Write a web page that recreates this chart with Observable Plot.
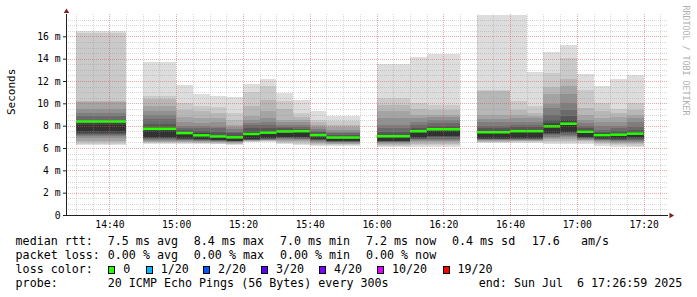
<!DOCTYPE html>
<html><head><meta charset="utf-8">
<script src="https://cdn.jsdelivr.net/npm/d3@7"></script>
<script src="https://cdn.jsdelivr.net/npm/@observablehq/plot@0.6"></script>
<style>
html,body{margin:0;padding:0;background:#fff;}
#wrap{position:relative;width:697px;height:297px;overflow:hidden;background:#fff;}
#chart svg{display:block;}
.lg{position:absolute;white-space:pre;font-family:"DejaVu Sans Mono",monospace;font-size:11.66px;line-height:14px;color:#000;}
.box{position:absolute;width:5px;height:6px;border:1px solid #000;}
</style></head><body><div id="wrap"><div id="chart"></div><div id="legend"></div></div>
<script>
// ---- data (ms) ----
const starts = ["14:30","14:50","15:00","15:05","15:10","15:15","15:20","15:25","15:30","15:35","15:40","15:45","16:00","16:10","16:15","16:30","16:40","16:45","16:50","16:55","17:00","17:05","17:10","17:15"];
const ends   = ["14:45","15:00","15:05","15:10","15:15","15:20","15:25","15:30","15:35","15:40","15:45","15:55","16:10","16:15","16:25","16:40","16:45","16:50","16:55","17:00","17:05","17:10","17:15","17:20"];
const medians = [8.42,7.77,7.38,7.18,7.08,7.0,7.3,7.42,7.53,7.55,7.2,6.98,7.1,7.55,7.73,7.45,7.55,7.55,7.98,8.22,7.5,7.2,7.24,7.33];
// 20 sorted ping times per interval
const pings = [
  [6.25,6.35,6.5,6.64,6.9,7.05,7.15,7.25,7.33,7.5, 8.1,8.3,8.5,8.85,9.17,9.53,10.15,10.2,16.27,16.47],
  [6.4,6.45,6.5,6.55,6.62,6.7,6.79,6.86,6.93,7.0, 7.5,7.86,8.16,8.58,8.94,9.3,9.78,10.37,10.67,13.72],
  [6.4,6.45,6.5,6.56,6.62,6.68,6.74,6.8,6.84,6.88, 7.25,7.45,7.6,7.75,7.95,8.37,8.82,9.42,10.05,11.66],
  [6.35,6.42,6.48,6.54,6.6,6.65,6.7,6.74,6.77,6.79, 7.08,7.3,7.5,7.77,8.0,8.22,8.67,9.27,9.8,10.8],
  [6.35,6.4,6.46,6.52,6.57,6.62,6.66,6.69,6.71,6.73, 6.97,7.2,7.45,7.77,7.92,8.37,8.67,9.12,9.71,10.65],
  [6.3,6.35,6.4,6.46,6.52,6.56,6.6,6.63,6.65,6.66, 6.88,7.1,7.3,7.47,7.7,7.92,8.07,8.52,9.12,10.6],
  [6.55,6.58,6.62,6.65,6.68,6.71,6.73,6.75,6.77,6.79, 7.17,7.45,7.77,8.07,8.22,8.5,8.85,9.8,11.05,11.75],
  [6.55,6.6,6.64,6.68,6.72,6.76,6.8,6.83,6.86,6.88, 7.26,7.55,7.77,8.1,8.37,8.7,9.35,10.31,11.57,12.2],
  [6.35,6.45,6.55,6.64,6.72,6.8,6.87,6.93,6.98,7.02, 7.38,7.62,7.77,7.9,8.07,8.3,8.55,9.45,10.2,10.97],
  [6.28,6.4,6.52,6.62,6.7,6.78,6.85,6.92,6.97,7.02, 7.42,7.62,7.72,7.92,8.07,8.3,8.52,8.8,9.12,10.3],
  [6.2,6.3,6.4,6.48,6.56,6.64,6.7,6.76,6.81,6.85, 7.02,7.25,7.4,7.55,7.69,7.85,8.07,8.3,8.52,9.27],
  [6.15,6.25,6.33,6.4,6.46,6.52,6.56,6.6,6.63,6.66, 6.85,7.05,7.2,7.35,7.47,7.65,7.85,8.1,8.4,8.9],
  [6.12,6.22,6.3,6.38,6.45,6.5,6.55,6.6,6.64,6.66, 6.97,7.2,7.45,7.77,8.07,8.67,9.27,9.87,10.46,13.55],
  [6.12,6.25,6.38,6.5,6.6,6.7,6.78,6.85,6.92,6.97, 7.33,7.6,7.8,8.07,8.37,8.67,8.97,9.5,10.05,14.15],
  [6.1,6.25,6.4,6.52,6.65,6.75,6.85,6.95,7.03,7.09, 7.53,7.8,7.95,8.22,8.5,8.75,8.97,9.4,9.87,14.45],
  [6.45,6.52,6.58,6.64,6.7,6.74,6.78,6.82,6.85,6.88, 7.33,7.55,7.8,8.0,8.3,8.6,8.95,11.1,11.2,17.95],
  [6.48,6.55,6.6,6.65,6.7,6.74,6.78,6.82,6.86,6.9, 7.4,7.65,7.85,8.1,8.37,8.7,8.97,9.42,10.25,17.95],
  [6.48,6.55,6.6,6.65,6.7,6.74,6.78,6.82,6.86,6.9, 7.4,7.65,7.85,8.07,8.3,8.67,8.9,9.12,9.8,12.85],
  [6.35,6.5,6.65,6.8,6.92,7.02,7.12,7.22,7.3,7.38, 7.86,8.2,8.52,8.97,9.57,9.96,10.8,11.5,12.75,14.6],
  [6.35,6.5,6.65,6.8,6.95,7.08,7.2,7.3,7.4,7.47, 8.07,8.5,8.9,9.36,10.0,10.8,11.55,12.15,14.05,15.25],
  [6.4,6.5,6.6,6.68,6.75,6.82,6.88,6.93,6.98,7.02, 7.33,7.6,7.8,8.0,8.25,8.52,8.97,9.57,11.2,12.65],
  [6.2,6.35,6.45,6.55,6.62,6.7,6.75,6.8,6.84,6.88, 7.08,7.3,7.45,7.65,7.98,8.3,8.67,9.3,10.0,11.55],
  [6.12,6.25,6.35,6.45,6.55,6.62,6.7,6.76,6.82,6.88, 7.08,7.3,7.5,7.77,8.0,8.3,8.76,9.1,9.45,12.2],
  [6.1,6.22,6.35,6.45,6.55,6.62,6.7,6.78,6.88,6.95, 7.2,7.45,7.65,7.92,8.3,8.67,9.0,9.42,10.02,12.5]
];
const yTickValues = [0,2,4,6,8,10,12,14,16];
const xTickLabels = ["14:40","15:00","15:20","15:40","16:00","16:20","16:40","17:00","17:20"];
const lossLabels = ["0","1/20","2/20","3/20","4/20","10/20","19/20"];
const lossColors = ["#26ff00","#00b8ff","#0059ff","#5e00ff","#7e00ff","#dd00ff","#ff0000"];
const rttStats = ["7.5 ms avg","8.4 ms max","7.0 ms min","7.2 ms now","0.4 ms sd","17.6   am/s"];
const lossStats = ["0.00 % avg","0.00 % max","0.00 % min","0.00 % now"];
const probeText = "20 ICMP Echo Pings (56 Bytes) every 300s";
const endText = "end: Sun Jul  6 17:26:59 2025";
const rangeStart = "14:27", rangeEnd = "17:27";

// ---- build ----
const t = s => new Date(`2025-07-06T${s}:00Z`);
const bars = starts.map((s, i) => ({start: t(s), end: t(ends[i]), median: medians[i]}));
const bands = [];
for (let k = 0; k < 10; k++) {
  starts.forEach((s, i) => bands.push({start: t(s), end: t(ends[i]), lo: pings[i][k], hi: pings[i][19 - k], k}));
}
const shade = k => { const v = Math.round(190 / 10 * (10 - (k + 1))) + 50; return `rgb(${v},${v},${v})`; };

const x0 = t(rangeStart), x1 = t(rangeEnd);
const xAll = d3.utcMinute.every(5).range(t("14:30"), x1);
const xMajor = xTickLabels.map(t);
const xMinor = xAll.filter(d => d.getUTCMinutes() % 20 !== 0);
const yHalf = d3.range(1, 36).map(i => i / 2);
const yMinor = yHalf.filter(v => v % 2 !== 0);
const yMajor = yTickValues.filter(v => v > 0);

const gridGray = {stroke: "#8f8f8f", strokeOpacity: 0.36, strokeDasharray: "1,1", shapeRendering: "crispEdges"};
const gridRed = {stroke: "#de4f4f", strokeOpacity: 0.5, strokeDasharray: "1,1", shapeRendering: "crispEdges"};

const chart = Plot.plot({
  width: 697, height: 234,
  marginLeft: 66, marginRight: 30, marginTop: 14, marginBottom: 19,
  style: {fontFamily: "'DejaVu Sans Mono', monospace", fontSize: "9.7px", color: "#000", background: "#fff", overflow: "visible"},
  x: {type: "utc", domain: [x0, x1]},
  y: {domain: [0, 18]},
  marks: [
    Plot.rect(bands, {x1: "start", x2: "end", y1: "lo", y2: "hi", fill: d => shade(d.k), shapeRendering: "crispEdges"}),
    Plot.ruleY(bars, {x1: "start", x2: "end", y: "median", stroke: "#26ff00", strokeWidth: 2.5}),
    Plot.ruleY(yMinor, gridGray),
    Plot.ruleX(xMinor, gridGray),
    Plot.ruleY(yMajor, gridRed),
    Plot.ruleX(xMajor, gridRed),
    Plot.axisY({ticks: yTickValues, tickFormat: d => d === 0 ? "0" : `${d} m`, tickSize: 3, tickPadding: 3, label: null, stroke: "#202020"}),
    Plot.axisX({ticks: xMajor, tickFormat: d3.utcFormat("%H:%M"), tickSize: 0, tickPadding: 6, label: null}),
    Plot.frame({anchor: "left", stroke: "#202020"}),
    Plot.frame({anchor: "bottom", stroke: "#202020"}),
    Plot.text(["Seconds"], {frameAnchor: "left", rotate: -90, dx: -55, fontSize: 11, fill: "#000"}),
    Plot.text(["RRDTOOL / TOBI OETIKER"], {frameAnchor: "top-right", rotate: 90, dx: 21, dy: -9, textAnchor: "start", fill: "#b0b0b0", fontSize: 8.3}),
    Plot.dot([0], {frameAnchor: "top-left", symbol: "triangle", r: 2, fill: "#801f1f", stroke: null, dy: -3}),
    Plot.dot([0], {frameAnchor: "bottom-right", symbol: "triangle", r: 2, fill: "#801f1f", stroke: null, rotate: 90, dx: 3.5})
  ]
});
document.getElementById("chart").appendChild(chart);

// ---- legend ----
const lg = document.getElementById("legend");
const put = (txt, x, base) => { const s = document.createElement("span"); s.className = "lg"; s.textContent = txt; s.style.left = x + "px"; s.style.top = (base - 11) + "px"; lg.appendChild(s); };
const rows = [245, 259, 273.3, 287.3];
const colX = [107.8, 193.8, 279.9, 366, 452, 531.8];
put("median rtt:", 15.6, rows[0]);
rttStats.forEach((s, i) => put(s, colX[i], rows[0]));
put("packet loss:", 15.6, rows[1]);
lossStats.forEach((s, i) => put(s, colX[i], rows[1]));
put("loss color:", 15.6, rows[2]);
const boxX = [108.3, 145.7, 203, 261, 319, 377, 442.5];
lossLabels.forEach((l, i) => {
  const b = document.createElement("div"); b.className = "box";
  b.style.left = boxX[i] + "px"; b.style.top = (rows[2] - 7.5) + "px"; b.style.background = lossColors[i];
  lg.appendChild(b);
  put(l, boxX[i] + 15, rows[2]);
});
put("probe:", 15.6, rows[3]);
put(probeText, 107.8, rows[3]);
put(endText, 478.8, rows[3]);
</script></body></html>
